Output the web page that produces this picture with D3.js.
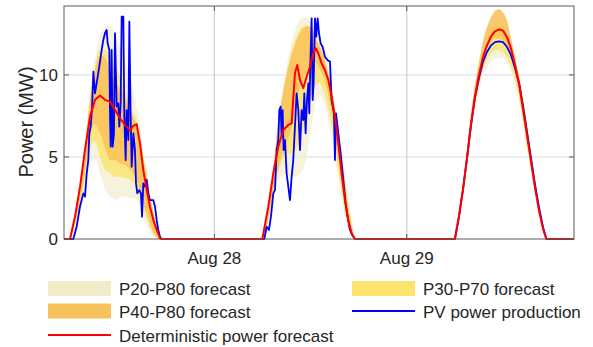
<!DOCTYPE html>
<html><head><meta charset="utf-8">
<script src="https://cdn.jsdelivr.net/npm/d3@7"></script>
<style>
body{margin:0;background:#fff;}
svg{display:block;}
text{font-family:"Liberation Sans",Arial,Helvetica,sans-serif;fill:#262626;}
</style>
</head><body>
<svg id="chart" width="593" height="347"></svg>
<script>
// ---------- DATA (hours of day; values in MW) ----------
const xTickHours = [24, 48];
const xTickLabels = ["Aug 28", "Aug 29"];
const yTicks = [0, 5, 10];
const dayOffsets = [0, 24, 48]; // Aug 27, Aug 28, Aug 29

// Day 1 (Aug 27)
const d1BandHours = [6.0,6.6,7.25,7.9,8.5,9.1,9.7,10.4,11.0,11.6,12.2,12.9,13.5,14.1,14.7,15.1,15.6,16.0,16.4,16.8,17.2,17.5];
const d1P20P80lo = [0,0.5,1.5,3,4.5,5,4,3,2.6,2.4,2.5,2.6,2.5,2.5,2,1.4,0.8,0.4,0.2,0,0,0];
const d1P20P80hi = [0,1.5,3.5,6,9,11,12.3,12.9,13.0,12.5,11.8,10.8,9.8,8.5,7,5.5,4,2.8,1.8,1,0.3,0];
const d1P30P70lo = [0,0.8,2,3.8,5.5,6,5,4.2,4.0,3.8,3.8,3.7,3.6,3.3,2.5,1.8,1.2,0.7,0.3,0.1,0,0];
const d1P30P70hi = [0,1.2,3,5.5,8.5,10.5,11.5,11.5,11,10.5,10,9,8,7.5,6.2,5,3.8,2.6,1.6,0.8,0.2,0];
const d1P40P80lo = [0,1,2.4,4.3,6.2,7,6.5,5.5,4.8,4.8,4.6,4.5,4.2,3.8,3,2.2,1.5,0.9,0.4,0.15,0,0];
const d1P40P80hi = [0,1.3,3.2,5.8,8.5,10.2,11.2,11.0,10.2,9.6,9.2,8.5,7.8,7.2,6.2,5,3.8,2.6,1.6,0.8,0.2,0];
const d1DetHours = [6.0,6.62,7.25,7.87,8.49,9.12,9.74,10.36,10.99,11.61,12.23,12.86,13.48,13.89,14.31,14.73,15.14,15.56,15.97,16.39,16.81,17.22,17.35];
const d1Det = [0,1.36,3.19,5.43,7.46,8.48,8.74,8.48,8.37,7.87,7.36,6.95,6.6,6.9,7.0,5.83,4.2,3.0,1.97,1.16,0.55,0.05,0];
const d1PVHours = [6.41,6.83,7.24,7.66,7.87,8.08,8.28,8.41,8.57,8.74,8.91,9.12,9.32,9.65,9.95,10.15,10.36,10.57,10.69,10.9,10.99,11.07,11.19,11.32,11.48,11.61,11.82,12.02,12.15,12.32,12.44,12.65,12.77,12.94,13.06,13.27,13.4,13.56,13.69,13.9,14.1,14.23,14.39,14.64,14.85,14.98,15.14,15.35,15.56,15.76,15.97,16.18,16.39,16.6,16.81,17.01,17.22,17.43];
const d1PV = [0,0.75,1.97,2.78,2.58,4.0,4.81,6.44,6.85,7.86,10.2,8.88,9.49,10.5,11.52,12.13,12.54,12.74,11.93,11.52,7.46,5.63,11.52,5.63,6.44,12.54,8.07,8.27,6.85,8.27,13.55,13.55,7.46,4.81,7.86,6.03,13.25,7.46,4.41,6.44,5.42,3.39,2.78,2.98,2.78,1.36,3.39,3.19,3.6,2.78,2.37,2.37,2.37,1.97,1.15,0.55,0.14,0];

// Day 2 (Aug 28)
const d2BandHours = [6.0,6.5,7.0,7.5,8.0,8.5,9.0,9.5,10.0,10.5,11.0,11.5,12.0,12.5,13.0,13.5,14.0,14.5,15.0,15.5,16.0,16.5,17.0,17.5];
const d2P20P80lo = [0,0.5,1.5,2.8,3.6,3.9,4.0,3.8,3.8,3.9,4.2,5.0,6.5,8.0,8.8,8.5,7.8,6.6,5.0,3.6,2.2,1.0,0.3,0];
const d2P20P80hi = [0,1.2,3,5,7,9,10.5,11.8,12.6,13.2,13.5,13.5,13.3,12.8,12.2,11.5,10.8,9.8,8.4,6.8,5,3.2,1.5,0];
const d2P30P70lo = [0,0.6,1.8,3.2,4.2,4.8,5.2,5.2,5.4,5.8,6.5,7.5,8.6,9.3,9.5,9.2,8.4,7.2,5.7,4.1,2.5,1.1,0.4,0];
const d2P30P70hi = [0,1.0,2.6,4.6,6.6,8.5,10,11.2,12,12.6,12.9,12.8,12.6,12.2,11.8,11.2,10.5,9.5,8.1,6.5,4.7,2.9,1.3,0];
const d2P40P80lo = [0,0.7,2.0,3.4,4.3,5.2,5.8,6.6,7.6,8.9,9.6,10.2,10.6,10.8,10.5,10,9.2,8,6.4,4.7,3,1.4,0.4,0];
const d2P40P80hi = [0,1.1,2.8,5,7.3,8.8,10,11,11.8,12.4,12.8,13,12.9,12.4,11.9,11.3,10.5,9.4,8.0,6.3,4.4,2.6,1.1,0];
const d2DetHours = [5.98,6.73,7.35,7.97,8.6,9.22,9.64,10.05,10.34,10.68,11.09,11.51,11.92,12.34,12.67,12.96,13.38,13.79,14.21,14.62,15.04,15.46,15.87,16.29,16.7,17.12,17.53];
const d2Det = [0,1.97,4.0,5.63,6.64,6.95,7.05,10.1,10.6,9.7,9.2,9.9,10.5,11.32,11.62,11.32,10.7,10.3,9.7,8.67,7.46,5.83,4.0,2.37,1.15,0.34,0];
const d2PVHours = [6.23,6.52,6.81,7.06,7.35,7.56,7.77,7.97,8.1,8.27,8.39,8.51,8.64,8.81,9.01,9.22,9.43,9.64,9.84,10.05,10.26,10.47,10.68,10.88,11.09,11.22,11.38,11.55,11.72,11.84,11.96,12.13,12.26,12.38,12.55,12.71,12.88,13.05,13.25,13.5,13.79,14.13,14.42,14.62,14.92,15.04,15.17,15.46,15.79,16.08,16.37,16.62,16.91,17.2,17.53];
const d2PV = [0,0.75,0.55,1.36,2.78,2.98,5.42,6.03,7.86,8.07,6.24,7.86,5.42,6.03,4.0,3.19,2.37,3.8,4.81,6.85,8.88,7.86,5.42,7.86,7.25,8.88,6.44,8.47,9.49,7.66,10.5,13.45,8.47,9.49,13.45,12.33,13.45,12.54,11.93,11.72,11.11,10.9,10.81,8.47,7.66,4.81,7.66,6.44,5.02,3.6,2.17,1.36,0.55,0.24,0];

// Day 3 (Aug 29)
const d3Hours = [6.0,6.5,7.0,7.5,8.0,8.5,9.0,9.5,10.0,10.5,11.0,11.5,12.0,12.5,13.0,13.5,14.0,14.5,15.0,15.5,16.0,16.5,17.0,17.4];
const d3P20P80lo = [0,1.1,2.6,4.4,6.3,7.8,8.9,9.9,10.4,10.8,11.0,11.0,11.0,10.7,10.2,9.4,8.3,6.9,5.4,4.0,2.6,1.4,0.4,0];
const d3P20P80hi = [0,1.6,3.4,5.4,7.6,9.4,10.8,12.0,12.9,13.5,13.9,14.0,13.8,13.3,12.2,11.1,9.9,8.4,6.8,5.1,3.4,1.9,0.7,0];
const d3P30P70lo = [0,1.2,2.8,4.6,6.6,8.2,9.4,10.3,10.9,11.3,11.5,11.5,11.4,11.0,10.5,9.7,8.6,7.2,5.7,4.2,2.7,1.5,0.5,0];
const d3P30P70hi = [0,1.5,3.2,5.2,7.4,9.1,10.4,11.5,12.3,12.8,13.1,13.2,13.0,12.6,11.9,10.9,9.8,8.6,7.0,5.3,3.5,2.0,0.8,0];
const d3P40P80lo = [0,1.3,2.9,4.8,6.9,8.6,9.9,11.0,11.6,12.0,12.2,12.2,12.1,11.8,11.1,10.1,8.9,7.4,5.9,4.4,2.9,1.6,0.5,0];
const d3P40P80hi = [0,1.6,3.4,5.4,7.6,9.4,10.8,12.0,12.9,13.5,13.9,14.0,13.8,13.3,12.2,11.1,9.9,8.4,6.8,5.1,3.4,1.9,0.7,0];
const d3Det = [0,1.4,3.0,4.9,7.0,8.7,10.0,11.1,11.8,12.35,12.65,12.78,12.7,12.3,11.6,10.6,9.45,7.9,6.3,4.7,3.1,1.7,0.6,0];
const d3PV = [0,1.3,3.0,4.9,6.9,8.6,9.8,10.8,11.4,11.8,12.0,12.05,12.0,11.7,11.2,10.4,9.5,8.1,6.5,4.9,3.3,1.9,0.7,0];

const xDomain = [5.25, 68.85];
const yDomain = [0, 14.2];

// ---------- CHART ----------
const colPale = "#f1ebc8", colYellow = "#fde36c", colOrange = "#f9c15a";
const colRed = "#ff0000", colBlue = "#0000ff";

const svg = d3.select("#chart");
const L = 64, R = 574, T = 6, B = 239;
const x = d3.scaleLinear().domain(xDomain).range([L, R]);
const y = d3.scaleLinear().domain(yDomain).range([B, T]);

// grid
svg.append("g").selectAll("line").data(yTicks.filter(d => d > 0)).join("line")
  .attr("x1", L).attr("x2", R).attr("y1", d => y(d)).attr("y2", d => y(d))
  .attr("stroke", "#dcdcdc").attr("stroke-width", 1);
svg.append("g").selectAll("line").data(xTickHours).join("line")
  .attr("x1", d => x(d)).attr("x2", d => x(d)).attr("y1", T).attr("y2", B)
  .attr("stroke", "#c4c4c4").attr("stroke-width", 1);

const pts = (off, hs, vs) => hs.map((h, i) => ({t: h + off, v: vs[i]}));
const band = (off, hs, lo, hi) => hs.map((h, i) => ({t: h + off, lo: lo[i], hi: hi[i]}));

const area = d3.area().x(d => x(d.t)).y0(d => y(d.lo)).y1(d => y(d.hi)).curve(d3.curveMonotoneX);
const plot = svg.append("g");

const bands = [
  [colPale, 0.65, [band(0, d1BandHours, d1P20P80lo, d1P20P80hi), band(24, d2BandHours, d2P20P80lo, d2P20P80hi), band(48, d3Hours, d3P20P80lo, d3P20P80hi)]],
  [colYellow, 0.8, [band(0, d1BandHours, d1P30P70lo, d1P30P70hi), band(24, d2BandHours, d2P30P70lo, d2P30P70hi), band(48, d3Hours, d3P30P70lo, d3P30P70hi)]],
  [colOrange, 0.85, [band(0, d1BandHours, d1P40P80lo, d1P40P80hi), band(24, d2BandHours, d2P40P80lo, d2P40P80hi), band(48, d3Hours, d3P40P80lo, d3P40P80hi)]]
];
bands.forEach(([c, op, days]) => {
  days.forEach(dd => plot.append("path").datum(dd).attr("d", area).attr("fill", c).attr("fill-opacity", op));
});

const line = d3.line().x(d => x(d.t)).y(d => y(d.v));
const pvSeries = [{t: xDomain[0], v: 0}].concat(
  pts(dayOffsets[0], d1PVHours, d1PV), pts(dayOffsets[1], d2PVHours, d2PV), pts(dayOffsets[2], d3Hours, d3PV),
  [{t: xDomain[1], v: 0}]);
const detSeries = [{t: xDomain[0], v: 0}].concat(
  pts(dayOffsets[0], d1DetHours, d1Det), pts(dayOffsets[1], d2DetHours, d2Det), pts(dayOffsets[2], d3Hours, d3Det),
  [{t: xDomain[1], v: 0}]);

// axis box
svg.append("rect").attr("x", L).attr("y", T).attr("width", R - L).attr("height", B - T)
  .attr("fill", "none").attr("stroke", "#5a5a5a").attr("stroke-width", 1);

plot.append("path").datum(pvSeries).attr("d", line).attr("fill", "none")
  .attr("stroke", colBlue).attr("stroke-width", 1.8).attr("stroke-linejoin", "round");
plot.append("path").datum(detSeries).attr("d", line).attr("fill", "none")
  .attr("stroke", colRed).attr("stroke-width", 2).attr("stroke-linejoin", "round");

// ticks (inside)
const tk = svg.append("g").attr("stroke", "#5a5a5a").attr("stroke-width", 1);
yTicks.forEach(v => {
  tk.append("line").attr("x1", L).attr("x2", L + 5).attr("y1", y(v)).attr("y2", y(v));
  tk.append("line").attr("x1", R - 5).attr("x2", R).attr("y1", y(v)).attr("y2", y(v));
});
xTickHours.forEach(h => {
  tk.append("line").attr("x1", x(h)).attr("x2", x(h)).attr("y1", B).attr("y2", B - 5);
  tk.append("line").attr("x1", x(h)).attr("x2", x(h)).attr("y1", T).attr("y2", T + 5);
});

// tick labels
svg.append("g").selectAll("text").data(yTicks).join("text")
  .attr("x", L - 6).attr("y", d => y(d)).attr("dy", "0.35em")
  .attr("text-anchor", "end").attr("font-size", 17).text(d => d);
svg.append("g").selectAll("text").data(xTickHours).join("text")
  .attr("x", d => x(d)).attr("y", 264)
  .attr("text-anchor", "middle").attr("font-size", 17).text((d, i) => xTickLabels[i]);

svg.append("text").attr("transform", "translate(33,122) rotate(-90)")
  .attr("text-anchor", "middle").attr("font-size", 20).text("Power (MW)");

// legend
const leg = svg.append("g");
const legItems = [
  {col: 0, row: 0, type: "rect", color: colPale, label: "P20-P80 forecast"},
  {col: 1, row: 0, type: "rect", color: colYellow, label: "P30-P70 forecast"},
  {col: 0, row: 1, type: "rect", color: colOrange, label: "P40-P80 forecast"},
  {col: 1, row: 1, type: "line", color: colBlue, label: "PV power production"},
  {col: 0, row: 2, type: "line", color: colRed, label: "Deterministic power forecast"}
];
const colX = [48, 352], rowY = [288.5, 311, 335];
legItems.forEach(it => {
  const x0 = colX[it.col], yc = rowY[it.row];
  if (it.type === "rect") {
    leg.append("rect").attr("x", x0).attr("y", yc - 7.5).attr("width", 63).attr("height", 15).attr("fill", it.color);
  } else {
    leg.append("line").attr("x1", x0).attr("x2", x0 + 63).attr("y1", yc).attr("y2", yc)
      .attr("stroke", it.color).attr("stroke-width", 2);
  }
  leg.append("text").attr("x", x0 + 71).attr("y", yc + 1).attr("dy", "0.35em")
    .attr("font-size", 17).text(it.label);
});
</script>
</body></html>
